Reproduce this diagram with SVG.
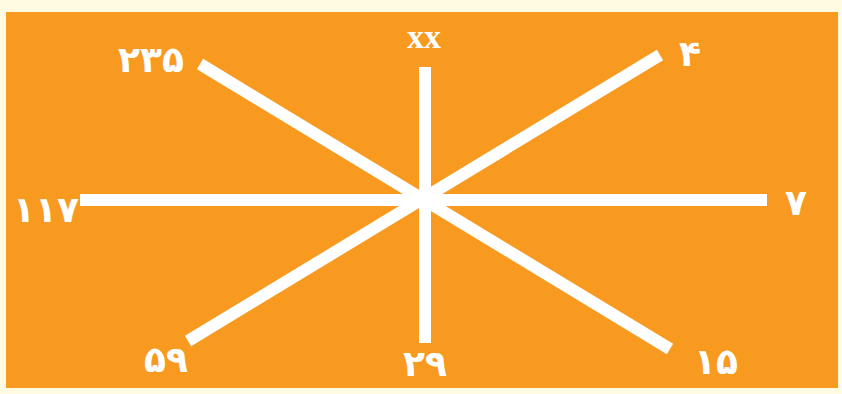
<svg xmlns="http://www.w3.org/2000/svg" width="842" height="394" viewBox="0 0 842 394">
<style>
.ln{stroke:#ffffff;stroke-width:12;fill:none}
.lb{fill:#ffffff;font-family:"DejaVu Sans",sans-serif;font-weight:bold;font-size:36px;text-anchor:middle}
.xx{fill:#ffffff;font-family:"Liberation Serif",serif;font-weight:bold;font-size:34px;text-anchor:middle}
</style>
<rect x="0" y="0" width="842" height="394" fill="#FEFBE0"/>
<rect x="6" y="12" width="832" height="376" fill="#F89A20"/>
<g id="connectors">
<line class="ln" x1="425" y1="67" x2="425" y2="343"/>
<line class="ln" x1="80" y1="200" x2="767" y2="200"/>
<line class="ln" x1="200" y1="64" x2="670" y2="349"/>
<line class="ln" x1="660" y1="55" x2="188" y2="341"/>
</g>
<g id="n-xx"><text class="xx" x="424" y="48">xx</text></g>
<g id="n-235"><text class="lb" x="151" y="72">۲۳۵</text></g>
<g id="n-4"><text class="lb" x="690" y="66">۴</text></g>
<g id="n-117"><text class="lb" x="46" y="222">۱۱۷</text></g>
<g id="n-7"><text class="lb" x="796" y="215">۷</text></g>
<g id="n-59"><text class="lb" x="166" y="372">۵۹</text></g>
<g id="n-29"><text class="lb" x="425" y="376">۲۹</text></g>
<g id="n-15"><text class="lb" x="716" y="374">۱۵</text></g>
</svg>
